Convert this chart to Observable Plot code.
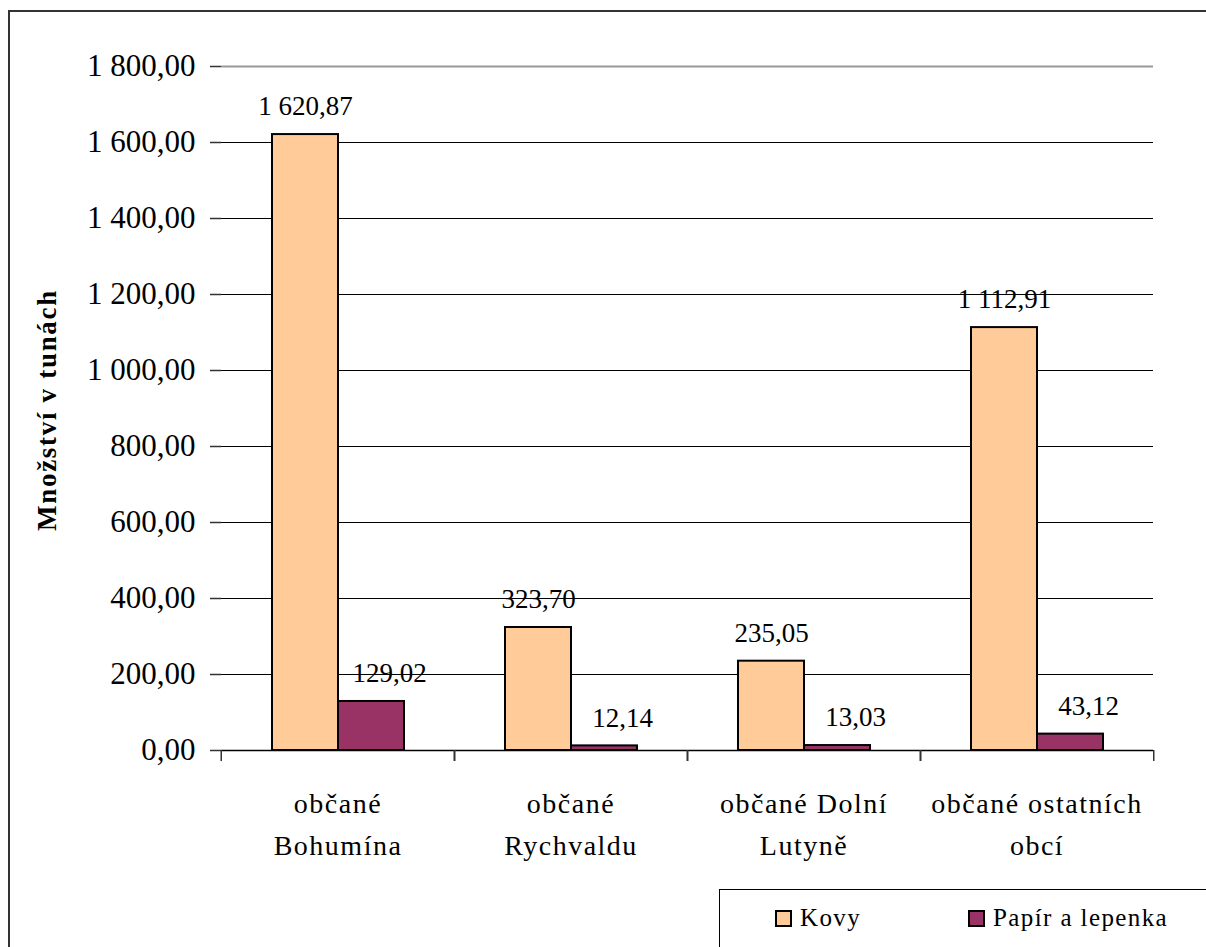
<!DOCTYPE html>
<html>
<head>
<meta charset="utf-8">
<script src="https://cdn.jsdelivr.net/npm/d3@7"></script>
<script src="https://cdn.jsdelivr.net/npm/@observablehq/plot@0.6"></script>
<style>
  html, body { margin: 0; padding: 0; background: #fff; }
  #wrap { position: relative; width: 1206px; height: 947px; overflow: hidden; background: #fff;
          font-family: "Liberation Serif", "Times New Roman", serif; }
  #border { position: absolute; left: 8px; top: 10px; width: 1300px; height: 1100px;
            border-left: 2px solid #333; border-top: 2px solid #333; box-sizing: border-box; }
  #chart { position: absolute; left: 0; top: 0; }
  #ytitle { position: absolute; left: 47px; top: 410px; transform: translate(-50%, -50%) rotate(-90deg);
            font-weight: bold; font-size: 27px; letter-spacing: 1.7px; white-space: nowrap; color: #000; }
  #legend { position: absolute; left: 719px; top: 889px; width: 600px; height: 120px;
            border: 1px solid #000; background: #fff; box-sizing: border-box; }
  .li { position: absolute; top: 14px; display: flex; align-items: center; font-size: 25px;
        letter-spacing: 1.4px; color: #000; white-space: nowrap; }
  .sw { width: 13px; height: 13px; border: 2px solid #000; margin-right: 8px; }
</style>
</head>
<body>
<div id="wrap">
  <div id="border"></div>
  <div id="chart"></div>
  <div id="ytitle"></div>
  <div id="legend"></div>
</div>
<script>
const categories = ["občané Bohumína", "občané Rychvaldu", "občané Dolní Lutyně", "občané ostatních obcí"];
const categoryLabels = ["občané\nBohumína", "občané\nRychvaldu", "občané Dolní\nLutyně", "občané ostatních\nobcí"];
const series = ["Kovy", "Papír a lepenka"];
const kovy = [1620.87, 323.70, 235.05, 1112.91];
const papir = [129.02, 12.14, 13.03, 43.12];
const yTicks = [0, 200, 400, 600, 800, 1000, 1200, 1400, 1600, 1800];
const seriesColors = ["#FFCC99", "#993366"];
const yTitle = "Množství v tunách";

const data = categories.flatMap((c, i) => [
  {category: c, series: series[0], value: kovy[i]},
  {category: c, series: series[1], value: papir[i]}
]);
const labelOf = new Map(categories.map((c, i) => [c, categoryLabels[i]]));

const loc = d3.formatLocale({decimal: ",", thousands: "\u00a0", grouping: [3]});
const fmt = loc.format(",.2f");

const facetW = (1206 - 220 - 52) / 4;

const chart = Plot.plot({
  width: 1206,
  height: 947,
  marginLeft: 220,
  marginRight: 52,
  marginTop: 66,
  marginBottom: 197,
  style: {fontFamily: "'Liberation Serif', 'Times New Roman', serif", background: "transparent", color: "#000"},
  fx: {domain: categories, padding: 0, label: null},
  x: {domain: series, paddingInner: 0, paddingOuter: 0.7425, axis: null},
  y: {domain: [0, 1800], label: null},
  color: {domain: series, range: seriesColors},
  marks: [
    Plot.gridY(yTicks.filter(t => t > 0 && t < 1800), {stroke: "#000", strokeOpacity: 1, strokeWidth: 1}),
    Plot.ruleY([1800], {stroke: "#999", strokeWidth: 2}),
    Plot.barY(data, {fx: "category", x: "series", y: "value", fill: "series", stroke: "#000", strokeWidth: 2}),
    Plot.ruleY([0], {stroke: "#000", strokeWidth: 1.5}),
    Plot.text(data.filter(d => d.series === series[0]), {
      fx: "category", x: "series", y: "value", text: d => fmt(d.value),
      dy: -28, fontSize: 27, fill: "#000"
    }),
    Plot.text(data.filter(d => d.series === series[1]), {
      fx: "category", x: "series", y: "value", text: d => fmt(d.value),
      dy: -28, dx: 18, fontSize: 27, fill: "#000"
    }),
    Plot.axisY({anchor: "left", ticks: yTicks, tickFormat: fmt, tickSize: 11, tickPadding: 15,
                fontSize: 31, stroke: "#333", strokeWidth: 1.5, line: true, label: null, fill: "#000"}),
    Plot.axisY({anchor: "right", ticks: [], tickSize: 0, line: true, stroke: "#999", strokeWidth: 2, label: null}),
    Plot.axisFx({anchor: "bottom", tickSize: 0, tickPadding: 33, tickFormat: d => labelOf.get(d),
                 fontSize: 28, lineHeight: 1.5, label: null, fill: "#000"}),
    Plot.axisFx({anchor: "bottom", tickSize: 11, tickFormat: () => "", dx: -facetW / 2, stroke: "#333", strokeWidth: 1.5, label: null}),
    Plot.axisFx({anchor: "bottom", tickSize: 11, tickFormat: () => "", dx: facetW / 2, stroke: "#333", strokeWidth: 1.5, label: null})
  ]
});
document.getElementById("chart").appendChild(chart);
d3.select(chart).selectAll('g[aria-label="fx-axis tick label"] text').style("letter-spacing", "1.5px");

document.getElementById("ytitle").textContent = yTitle;

const legend = document.getElementById("legend");
const legendX = [55, 248];
series.forEach((s, i) => {
  const item = document.createElement("div");
  item.className = "li";
  item.style.left = legendX[i] + "px";
  const sw = document.createElement("div");
  sw.className = "sw";
  sw.style.background = seriesColors[i];
  const t = document.createElement("span");
  t.textContent = s;
  item.appendChild(sw);
  item.appendChild(t);
  legend.appendChild(item);
});
</script>
</body>
</html>
